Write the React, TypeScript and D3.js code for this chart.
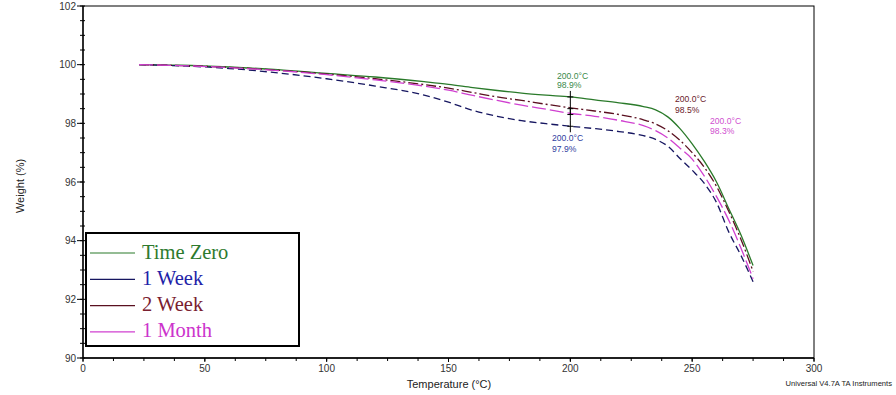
import React from "react";
import * as d3 from "d3";

const temps = [23, 40, 60, 80, 100, 120, 140, 150, 160, 170, 180, 190, 200, 210, 220, 230, 235, 240, 245, 250, 255, 260, 265, 270, 275];
const timeZero = [100.0, 99.98, 99.92, 99.83, 99.7, 99.58, 99.42, 99.33, 99.22, 99.12, 99.03, 98.96, 98.9, 98.8, 98.7, 98.57, 98.46, 98.22, 97.82, 97.3, 96.7, 96.0, 95.1, 94.2, 93.15];
const week1 = [100.0, 99.96, 99.87, 99.72, 99.52, 99.27, 98.96, 98.72, 98.44, 98.24, 98.09, 97.99, 97.9, 97.82, 97.72, 97.58, 97.45, 97.22, 96.8, 96.4, 95.95, 95.3, 94.3, 93.5, 92.6];
const week2 = [100.0, 99.97, 99.91, 99.81, 99.68, 99.52, 99.32, 99.2, 99.05, 98.9, 98.78, 98.65, 98.53, 98.42, 98.3, 98.12, 97.98, 97.75, 97.42, 97.0, 96.5, 95.85, 95.0, 94.05, 92.95];
const month1 = [100.0, 99.97, 99.9, 99.8, 99.66, 99.48, 99.27, 99.13, 98.95, 98.78, 98.62, 98.48, 98.34, 98.24, 98.1, 97.92, 97.75, 97.5, 97.15, 96.78, 96.2, 95.5, 94.7, 93.75, 92.7];

const seriesNames = ["Time Zero", "1 Week", "2 Week", "1 Month"];
const seriesValues = [timeZero, week1, week2, month1];
const lineColors = ["#2a7a2a", "#161660", "#5a1020", "#d040d0"];
const textColors = ["#2e7a2e", "#2222a8", "#7a2030", "#cc33cc"];
const labelColors = ["#3a8a4a", "#3040a0", "#6a1a2a", "#d050d0"];
const dashes = ["", "7,4", "10,3,2,3", "14,4"];

const markerTemp = 200;
const markerValues = [98.9, 97.9, 98.5, 98.3];
// annotation label anchor positions (pixels) for each series
const labelPos = [
  { x: 557, y: 78.5, dy: 9.5 },
  { x: 552, y: 140.5, dy: 11 },
  { x: 675, y: 102, dy: 10.5 },
  { x: 710, y: 123.5, dy: 10 },
];

const xTicksMajor = [0, 50, 100, 150, 200, 250, 300];
const yTicksMajor = [90, 92, 94, 96, 98, 100, 102];

export default function App() {
  const W = 896, H = 395;
  const x0 = 83, x1 = 814, y0 = 6, y1 = 358;
  const x = d3.scaleLinear().domain([0, 300]).range([x0, x1]);
  const y = d3.scaleLinear().domain([90, 102]).range([y1, y0]);

  const xMinor = d3.range(0, 300.01, 12.5);
  const yMinor = d3.range(90, 102.01, 0.5);

  const line = d3
    .line<number>()
    .x((_, i) => x(temps[i]))
    .y((d) => y(d))
    .curve(d3.curveMonotoneX);

  const font = "Arial, 'Liberation Sans', sans-serif";

  return (
    <svg width={W} height={H} style={{ position: "absolute", left: 0, top: 0, background: "#fff" }} fontFamily={font}>
      <rect x={0} y={0} width={W} height={H} fill="#fff" />
      {/* frame */}
      <rect x={x0} y={y0} width={x1 - x0} height={y1 - y0} fill="none" stroke="#000" strokeWidth={1} />
      <line x1={x0} y1={y0} x2={x0} y2={y1} stroke="#000" strokeWidth={1.3} />
      <line x1={x0} y1={y1} x2={x1} y2={y1} stroke="#000" strokeWidth={1.3} />

      {/* y ticks */}
      {yMinor.map((v) => (
        <line key={"ym" + v} x1={x0 - 3} x2={x0 + 2} y1={y(v)} y2={y(v)} stroke="#000" strokeWidth={1} />
      ))}
      {yTicksMajor.map((v) => (
        <g key={"yM" + v}>
          <line x1={x0 - 6} x2={x0} y1={y(v)} y2={y(v)} stroke="#000" strokeWidth={1} />
          <text x={x0 - 7} y={y(v) + 3.5} fontSize={10} textAnchor="end" fill="#333">{v}</text>
        </g>
      ))}
      {/* x ticks */}
      {xMinor.map((v) => (
        <line key={"xm" + v} x1={x(v)} x2={x(v)} y1={y1} y2={y1 + 3} stroke="#000" strokeWidth={1} />
      ))}
      {xTicksMajor.map((v) => (
        <g key={"xM" + v}>
          <line x1={x(v)} x2={x(v)} y1={y1} y2={y1 + 4} stroke="#000" strokeWidth={1} />
          <text x={x(v)} y={y1 + 14} fontSize={10} textAnchor="middle" fill="#333">{v}</text>
        </g>
      ))}

      {/* axis titles */}
      <text x={449} y={388} fontSize={11} textAnchor="middle" fill="#222">Temperature (°C)</text>
      <text transform={`translate(24,${(y0 + y1) / 2 + 4}) rotate(-90)`} fontSize={11} textAnchor="middle" fill="#222">Weight (%)</text>
      <text x={892} y={386} fontSize={7.6} textAnchor="end" fill="#222">Universal V4.7A TA Instruments</text>

      {/* curves */}
      {seriesValues.map((vals, i) => (
        <path key={"c" + i} d={line(vals) || ""} fill="none" stroke={lineColors[i]} strokeWidth={1.3} strokeDasharray={dashes[i]} />
      ))}

      {/* markers at 200 C */}
      {markerValues.map((v, i) => (
        <g key={"mk" + i}>
          <line x1={x(markerTemp)} x2={x(markerTemp)} y1={y(v) - 6} y2={y(v) + 6} stroke="#000" strokeWidth={1} />
          <line x1={x(markerTemp) - 3} x2={x(markerTemp) + 3} y1={y(v)} y2={y(v)} stroke="#000" strokeWidth={1} />
        </g>
      ))}
      {markerValues.map((v, i) => (
        <g key={"lb" + i} fill={labelColors[i]} fontSize={8.6}>
          <text x={labelPos[i].x} y={labelPos[i].y}>{markerTemp.toFixed(1)}°C</text>
          <text x={labelPos[i].x} y={labelPos[i].y + labelPos[i].dy}>{v.toFixed(1)}%</text>
        </g>
      ))}

      {/* legend */}
      <rect x={86} y={233} width={213} height={113} fill="#fff" stroke="#000" strokeWidth={2} />
      {seriesNames.map((name, i) => (
        <g key={"lg" + i}>
          <line x1={90} x2={135} y1={253 + i * 26.3} y2={253 + i * 26.3} stroke={lineColors[i]} strokeWidth={1.2} />
          <text x={142} y={258.5 + i * 26.3} fontSize={20.5} fontFamily="'Liberation Serif', 'Times New Roman', serif" fill={textColors[i]}>{name}</text>
        </g>
      ))}
    </svg>
  );
}
